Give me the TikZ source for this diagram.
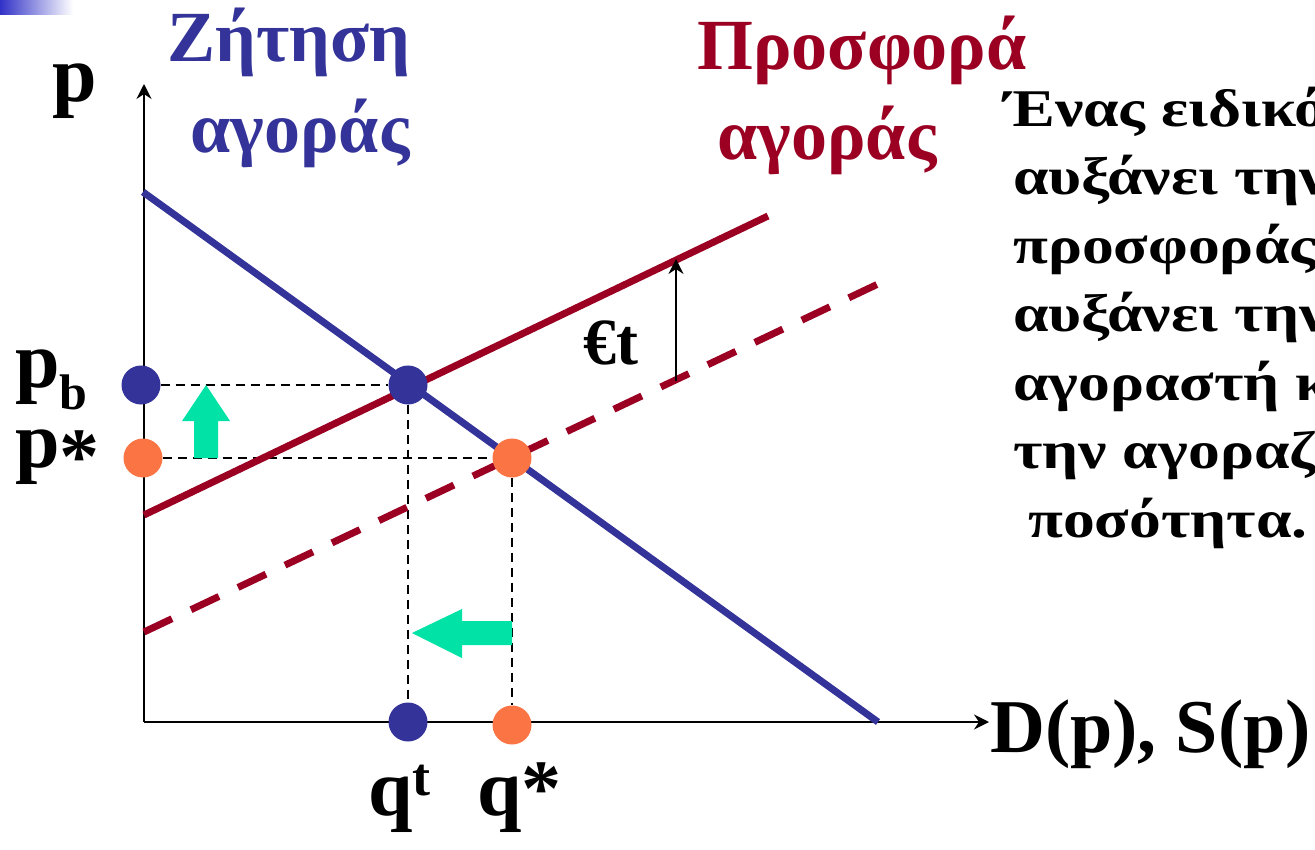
\documentclass[tikz,border=0pt]{standalone}
\usepackage{fontspec}
\setmainfont{Liberation Serif}
\usepackage{graphicx}
\usetikzlibrary{arrows.meta}
\definecolor{dblue}{RGB}{51,51,153}
\definecolor{sred}{RGB}{155,0,35}
\definecolor{dorange}{RGB}{250,116,68}
\definecolor{mint}{RGB}{0,226,166}
\definecolor{barblue}{RGB}{50,50,200}
\newcommand{\fsz}[1]{\fontsize{#1}{#1}\selectfont}
\newcommand{\wide}[1]{\scalebox{1.2}[1]{#1}}
\begin{document}
\begin{tikzpicture}[x=1pt,y=-1pt,
  axis/.style={line width=2.2pt,-{Stealth[length=15pt,width=15pt,inset=5pt]}},
  curve/.style={line width=7pt},
  guide/.style={line width=2.3pt,dash pattern=on 9pt off 6pt},
  dot/.style={circle,inner sep=0pt,minimum size=39pt},
  lbl/.style={inner sep=0pt,anchor=base west,font=\bfseries\fsz{80}},
  ttl/.style={inner sep=0pt,anchor=base,font=\bfseries\fsz{72}},
  txt/.style={inner sep=0pt,anchor=base west,font=\bfseries\fsz{53}}
]
\useasboundingbox (0,0) rectangle (1315,850);
\clip (0,0) rectangle (1315,850);
\shade[left color=barblue,right color=white] (0,0) rectangle (73,15);

% coordinates
\coordinate (O) at (144,722);
\coordinate (ytop) at (144,84);
\coordinate (xend) at (989,722);
\coordinate (d1) at (143,192);
\coordinate (d2) at (878,722);
\coordinate (s1) at (144,515);
\coordinate (s2) at (768,216);
\coordinate (t1) at (144,632);
\coordinate (t2) at (878,284);
\coordinate (a1) at (676,381);
\coordinate (a2) at (676,259);

% dots (placed first as nodes, drawn over later)
\node[dot] (pb) at (141,385) {};
\node[dot] (ps) at (143,458) {};
\node[dot] (E1) at (408,385) {};
\node[dot] (E0) at (512,458) {};
\node[dot] (qt) at (408,722) {};
\node[dot] (qs) at (512,725) {};

% guides
\draw[guide] (pb) -- (E1);
\draw[guide] (ps) -- (E0);
\draw[guide] (E1) -- (qt);
\draw[guide] (E0) -- (qs);

% axes
\draw[axis] (O) -- (ytop);
\draw[axis] (O) -- (xend);

% curves
\draw[curve,sred,dash pattern=on 31pt off 21pt] (t1) -- (t2);
\draw[curve,sred] (s1) -- (s2);
\draw[curve,dblue] (d1) -- (d2);

% tax arrow
\draw[line width=1.8pt,-{Stealth[length=15pt,width=15pt,inset=5pt]}] (a1) -- (a2);

% dots fill
\fill[dblue] (pb) circle (19.5pt);
\fill[dorange] (ps) circle (19.5pt);
\fill[dblue] (E1) circle (19.5pt);
\fill[dorange] (E0) circle (19.5pt);
\fill[dblue] (qt) circle (19.5pt);
\fill[dorange] (qs) circle (19.5pt);

% green arrows
\fill[mint] (194,458) -- (194,421) -- (182,421) -- (206,385) -- (230,421) -- (218,421) -- (218,458) -- cycle;
\fill[mint] (512,621) -- (462,621) -- (462,609) -- (412,633) -- (462,658) -- (462,645) -- (512,645) -- cycle;

% labels
\node[lbl] (plab) at (52,102) {p};
\node[lbl] (pblab) at (15,388) {p\raisebox{-22pt}{\fsz{50}b}};
\node[lbl] (pslab) at (15,467) {p\raisebox{-16pt}{*}};
\node[lbl] (qtlab) at (368,815) {q\raisebox{20pt}{\fsz{54}t}};
\node[lbl] (qslab) at (477,815) {q*};
\node[lbl,font=\bfseries\fsz{66}] (tlab) at (583,364) {€t};
\node[lbl,font=\bfseries\fsz{76}] (xlab) at (990,752) {D(p), S(p)};

\node[ttl,text=dblue] (dem1) at (289,62) {Ζήτηση};
\node[ttl,text=dblue] (dem2) at (300,153) {αγοράς};
\node[ttl,text=sred] (sup1) at (862,70) {Προσφορά};
\node[ttl,text=sred] (sup2) at (827,160) {αγοράς};

\node[txt] (l1) at (1004,127) {\wide{Ένας ειδικός}};
\node[txt] (l2) at (1013,195) {\wide{αυξάνει την}};
\node[txt] (l3) at (1013,264) {\wide{προσφοράς}};
\node[txt] (l4) at (1013,332) {\wide{αυξάνει την}};
\node[txt] (l5) at (1013,400) {\wide{αγοραστή και}};
\node[txt] (l6) at (1013,468) {\wide{την αγοραζόμενη}};
\node[txt] (l7) at (1028,537) {\wide{ποσότητα.}};
\end{tikzpicture}
\end{document}
